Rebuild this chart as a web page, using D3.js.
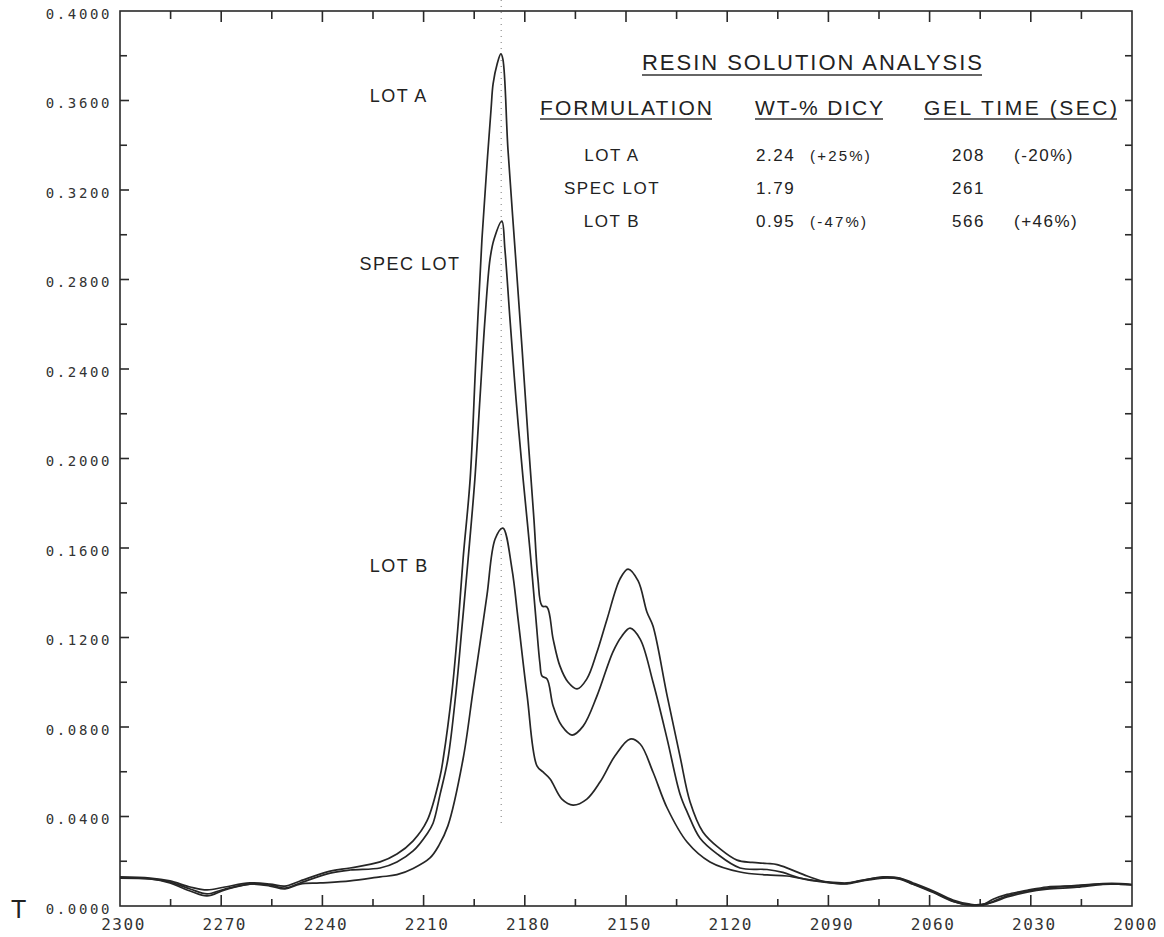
<!DOCTYPE html>
<html>
<head>
<meta charset="utf-8">
<script src="https://cdn.jsdelivr.net/npm/d3@7"></script>
<style>
	body { margin: 0; background: #fff; }
	svg { display: block; }
	.lbl { font-family: "Liberation Sans", Arial, sans-serif; fill: #222; }
	.tick text { font-family: "DejaVu Sans Mono", monospace; fill: #333; }
</style>
</head>
<body>
<svg id="chart"></svg>
<script>
// wavenumber (cm-1) , absorbance pairs
const lotA = [
	[2300.0, 0.0130], [2291.1, 0.0125], [2285.2, 0.0112], [2279.2, 0.0085], [2274.2, 0.0072],
	[2268.9, 0.0085], [2261.5, 0.0103], [2255.5, 0.0098], [2251.1, 0.0089], [2246.6, 0.0112],
	[2237.7, 0.0156], [2231.8, 0.0170], [2222.9, 0.0197], [2217.9, 0.0232], [2213.1, 0.0291],
	[2209.0, 0.0380], [2205.1, 0.0581], [2204.2, 0.0657], [2201.6, 0.0956], [2199.8, 0.1251],
	[2198.3, 0.1551], [2196.2, 0.1908], [2194.5, 0.2445], [2192.7, 0.2981], [2191.2, 0.3316],
	[2190.0, 0.3562], [2189.4, 0.3674], [2188.2, 0.3763], [2187.1, 0.3808], [2186.5, 0.3785],
	[2185.0, 0.3383], [2182.9, 0.2936], [2180.8, 0.2489], [2178.8, 0.2042], [2177.3, 0.1730],
	[2176.1, 0.1461], [2174.9, 0.1341], [2173.4, 0.1336], [2171.6, 0.1193], [2169.6, 0.1073],
	[2167.2, 0.1001], [2164.5, 0.0970], [2161.6, 0.1015], [2158.6, 0.1135], [2155.6, 0.1283],
	[2151.8, 0.1461], [2149.4, 0.1506], [2146.4, 0.1453], [2143.8, 0.1314], [2142.0, 0.1251],
	[2137.8, 0.0939], [2134.0, 0.0670], [2131.0, 0.0465], [2127.2, 0.0331], [2122.1, 0.0255],
	[2117.1, 0.0205], [2112.6, 0.0195], [2108.2, 0.0190], [2105.2, 0.0185], [2101.4, 0.0165],
	[2096.3, 0.0134], [2090.4, 0.0106], [2084.5, 0.0101], [2080.6, 0.0114], [2073.8, 0.0127],
	[2068.8, 0.0122], [2064.9, 0.0099], [2058.9, 0.0063], [2053.1, 0.0022], [2048.0, 0.0004],
	[2044.2, 0.0008], [2041.2, 0.0017], [2037.0, 0.0040], [2031.1, 0.0062], [2025.2, 0.0075],
	[2016.3, 0.0084], [2008.6, 0.0097], [2003.5, 0.0097], [2000.0, 0.0094]
];

const specLot = [
	[2300.0, 0.0125], [2291.1, 0.0121], [2285.2, 0.0107], [2279.2, 0.0076], [2274.2, 0.0054],
	[2268.9, 0.0076], [2261.5, 0.0098], [2255.5, 0.0094], [2251.1, 0.0080], [2246.6, 0.0103],
	[2237.7, 0.0147], [2231.8, 0.0161], [2222.9, 0.0170], [2217.9, 0.0197], [2213.1, 0.0246],
	[2209.0, 0.0322], [2207.2, 0.0370], [2205.1, 0.0500], [2202.8, 0.0657], [2200.4, 0.0956],
	[2198.6, 0.1251], [2196.8, 0.1551], [2194.8, 0.1908], [2193.3, 0.2266], [2191.8, 0.2623],
	[2190.3, 0.2892], [2189.1, 0.2981], [2186.8, 0.3061], [2185.9, 0.2936], [2184.4, 0.2624],
	[2182.6, 0.2266], [2180.5, 0.1908], [2178.5, 0.1596], [2176.7, 0.1283], [2175.5, 0.1082],
	[2174.9, 0.1028], [2173.4, 0.1015], [2171.6, 0.0894], [2169.0, 0.0804], [2166.0, 0.0764],
	[2162.7, 0.0804], [2158.6, 0.0939], [2153.9, 0.1135], [2151.2, 0.1207], [2148.8, 0.1242],
	[2145.8, 0.1193], [2142.0, 0.1001], [2137.8, 0.0746], [2134.0, 0.0501], [2131.6, 0.0411],
	[2128.1, 0.0304], [2123.0, 0.0233], [2116.2, 0.0170], [2108.2, 0.0163], [2103.5, 0.0150],
	[2098.4, 0.0125], [2090.4, 0.0108], [2084.5, 0.0103], [2080.6, 0.0112], [2073.8, 0.0130],
	[2068.8, 0.0125], [2064.9, 0.0103], [2058.9, 0.0067], [2053.1, 0.0027], [2048.0, 0.0008],
	[2044.2, 0.0004], [2041.2, 0.0020], [2037.0, 0.0045], [2031.1, 0.0067], [2025.2, 0.0080],
	[2016.3, 0.0092], [2008.6, 0.0100], [2003.5, 0.0100], [2000.0, 0.0096]
];

const lotB = [
	[2300.0, 0.0125], [2291.1, 0.0121], [2285.2, 0.0103], [2279.2, 0.0067], [2274.2, 0.0045],
	[2268.9, 0.0072], [2261.5, 0.0098], [2255.5, 0.0089], [2251.1, 0.0076], [2246.6, 0.0098],
	[2240.7, 0.0103], [2231.8, 0.0112], [2222.9, 0.0130], [2217.9, 0.0140], [2213.1, 0.0168],
	[2208.1, 0.0215], [2205.5, 0.0270], [2202.8, 0.0358], [2198.3, 0.0657], [2195.4, 0.0956],
	[2193.3, 0.1171], [2191.2, 0.1390], [2188.8, 0.1640], [2186.5, 0.1689], [2183.8, 0.1506],
	[2182.0, 0.1283], [2179.3, 0.0939], [2176.4, 0.0626], [2174.6, 0.0599], [2172.5, 0.0568],
	[2169.0, 0.0478], [2165.7, 0.0451], [2161.6, 0.0478], [2157.7, 0.0554], [2153.3, 0.0670],
	[2148.8, 0.0746], [2145.8, 0.0724], [2142.0, 0.0599], [2137.8, 0.0438], [2131.9, 0.0286],
	[2125.1, 0.0197], [2116.2, 0.0152], [2108.2, 0.0139], [2102.3, 0.0134], [2093.4, 0.0111],
	[2084.5, 0.0099], [2080.6, 0.0110], [2073.8, 0.0125], [2068.8, 0.0120], [2064.9, 0.0097],
	[2058.9, 0.0060], [2053.1, 0.0020], [2048.0, 0.0004], [2044.2, 0.0006], [2041.2, 0.0030],
	[2037.0, 0.0052], [2031.1, 0.0070], [2025.2, 0.0085], [2016.3, 0.0090], [2008.6, 0.0098],
	[2003.5, 0.0099], [2000.0, 0.0095]
];

const xMajorTicks = [2300, 2270, 2240, 2210, 2180, 2150, 2120, 2090, 2060, 2030, 2000];
const xMinorTicks = [2285, 2255, 2225, 2195, 2165, 2135, 2105, 2075, 2045, 2015];
const yMajorTicks = [0, 0.04, 0.08, 0.12, 0.16, 0.20, 0.24, 0.28, 0.32, 0.36, 0.40];
const yMinorTicks = [0.02, 0.06, 0.10, 0.14, 0.18, 0.22, 0.26, 0.30, 0.34, 0.38];
const peakWavenumber = 2187;

const curveLabels = ["LOT A", "SPEC LOT", "LOT B"];
const curveLabelPos = [[2226.0, 0.3593], [2229.0, 0.2842], [2226.0, 0.1493]];

const tableTitle = "RESIN SOLUTION ANALYSIS";
const tableHeaders = ["FORMULATION", "WT-% DICY", "GEL TIME (SEC)"];
const formulations = ["LOT A", "SPEC LOT", "LOT B"];
const dicyPct = ["2.24", "1.79", "0.95"];
const dicyChange = ["(+25%)", "", "(-47%)"];
const gelTime = ["208", "261", "566"];
const gelChange = ["(-20%)", "", "(+46%)"];

const W = 1164, H = 937;
const margin = { left: 120, right: 1132, top: 11, bottom: 906 };

const svg = d3.select("#chart")
	.attr("width", W)
	.attr("height", H);

const x = d3.scaleLinear().domain([2300, 2000]).range([margin.left, margin.right]);
const y = d3.scaleLinear().domain([0, 0.4]).range([margin.bottom, margin.top]);

const ink = "#262626";

// dotted guide through the main peak
svg.append("line")
	.attr("x1", x(peakWavenumber)).attr("x2", x(peakWavenumber))
	.attr("y1", 0).attr("y2", y(0.035))
	.attr("stroke", "#777")
	.attr("stroke-width", 1)
	.attr("stroke-dasharray", "1,5");

// frame
svg.append("rect")
	.attr("x", margin.left).attr("y", margin.top)
	.attr("width", margin.right - margin.left)
	.attr("height", margin.bottom - margin.top)
	.attr("fill", "none")
	.attr("stroke", "#2a2a2a")
	.attr("stroke-width", 1.6);

// tick marks, all pointing into the plot
const ticks = svg.append("g")
	.attr("stroke", "#2a2a2a")
	.attr("stroke-width", 1.6);

function yTicks(values, len) {
	ticks.selectAll(null).data(values).enter().append("line")
		.attr("x1", margin.left).attr("x2", margin.left + len)
		.attr("y1", d => y(d)).attr("y2", d => y(d));
	ticks.selectAll(null).data(values).enter().append("line")
		.attr("x1", margin.right).attr("x2", margin.right - 7)
		.attr("y1", d => y(d)).attr("y2", d => y(d));
}
function xTicks(values, lenBottom, lenTop) {
	ticks.selectAll(null).data(values).enter().append("line")
		.attr("x1", d => x(d)).attr("x2", d => x(d))
		.attr("y1", margin.bottom).attr("y2", margin.bottom - lenBottom);
	ticks.selectAll(null).data(values).enter().append("line")
		.attr("x1", d => x(d)).attr("x2", d => x(d))
		.attr("y1", margin.top).attr("y2", margin.top + lenTop);
}
yTicks(yMajorTicks.slice(1, -1), 9);
yTicks(yMinorTicks, 7);
xTicks(xMajorTicks.slice(1, -1), 11, 11);
xTicks(xMinorTicks, 7, 8);

// tick labels through d3 axes (no tick lines of their own)
svg.append("g")
	.attr("transform", `translate(${margin.left},0)`)
	.call(d3.axisLeft(y).tickValues(yMajorTicks).tickSize(0).tickPadding(8).tickFormat(d3.format(".4f")))
	.call(g => g.select(".domain").remove())
	.call(g => g.selectAll("text").attr("font-size", 14).attr("letter-spacing", "2.6px").attr("dy", "0.5em"));

svg.append("g")
	.attr("transform", `translate(0,${margin.bottom})`)
	.call(d3.axisBottom(x).tickValues(xMajorTicks).tickSize(0).tickPadding(13).tickFormat(d3.format("d")))
	.call(g => g.select(".domain").remove())
	.call(g => g.selectAll("text").attr("font-size", 16).attr("letter-spacing", "1.5px").attr("dx", "3px"));

// spectra
const line = d3.line()
	.x(d => x(d[0]))
	.y(d => y(d[1]))
	.curve(d3.curveCatmullRom.alpha(0.5));

svg.selectAll(".spectrum")
	.data([lotA, specLot, lotB])
	.enter().append("path")
	.attr("class", "spectrum")
	.attr("d", line)
	.attr("fill", "none")
	.attr("stroke", ink)
	.attr("stroke-width", 1.7)
	.attr("stroke-linejoin", "round");

// curve names
svg.selectAll(".curve-label")
	.data(curveLabels)
	.enter().append("text")
	.attr("class", "lbl curve-label")
	.attr("x", (d, i) => x(curveLabelPos[i][0]))
	.attr("y", (d, i) => y(curveLabelPos[i][1]))
	.attr("font-size", 18)
	.attr("letter-spacing", "1.5px")
	.text(d => d);

// table
const table = svg.append("g").attr("class", "lbl");

function underline(sel) {
	sel.each(function () {
		const b = this.getBBox();
		table.append("line")
			.attr("x1", b.x).attr("x2", b.x + b.width)
			.attr("y1", b.y + b.height).attr("y2", b.y + b.height)
			.attr("stroke", "#333")
			.attr("stroke-width", 1.3);
	});
}

table.append("text")
	.attr("x", 642).attr("y", 70)
	.attr("font-size", 22)
	.attr("textLength", 340)
	.attr("lengthAdjust", "spacing")
	.text(tableTitle)
	.call(underline);

const headerX = [540, 755, 924];
const headerW = [172, 128, 193];
table.selectAll(".hdr")
	.data(tableHeaders)
	.enter().append("text")
	.attr("class", "hdr")
	.attr("x", (d, i) => headerX[i])
	.attr("y", 115)
	.attr("font-size", 21)
	.attr("textLength", (d, i) => headerW[i])
	.attr("lengthAdjust", "spacing")
	.text(d => d)
	.call(underline);

const rowY = [161, 194, 227];
const rows = table.selectAll(".row")
	.data(formulations)
	.enter().append("g")
	.attr("class", "row")
	.attr("font-size", 17)
	.attr("letter-spacing", "1.5px");

rows.append("text")
	.attr("x", 612).attr("y", (d, i) => rowY[i])
	.attr("text-anchor", "middle")
	.text(d => d);
rows.append("text")
	.attr("x", 756).attr("y", (d, i) => rowY[i])
	.text((d, i) => dicyPct[i]);
rows.append("text")
	.attr("x", 810).attr("y", (d, i) => rowY[i])
	.attr("font-size", 15)
	.attr("letter-spacing", "2.2px")
	.text((d, i) => dicyChange[i]);
rows.append("text")
	.attr("x", 952).attr("y", (d, i) => rowY[i])
	.text((d, i) => gelTime[i]);
rows.append("text")
	.attr("x", 1014).attr("y", (d, i) => rowY[i])
	.text((d, i) => gelChange[i]);

// stray plotter mark at bottom left
svg.append("text")
	.attr("class", "lbl")
	.attr("x", 11).attr("y", 918)
	.attr("font-size", 25)
	.text("T");
</script>
</body>
</html>
